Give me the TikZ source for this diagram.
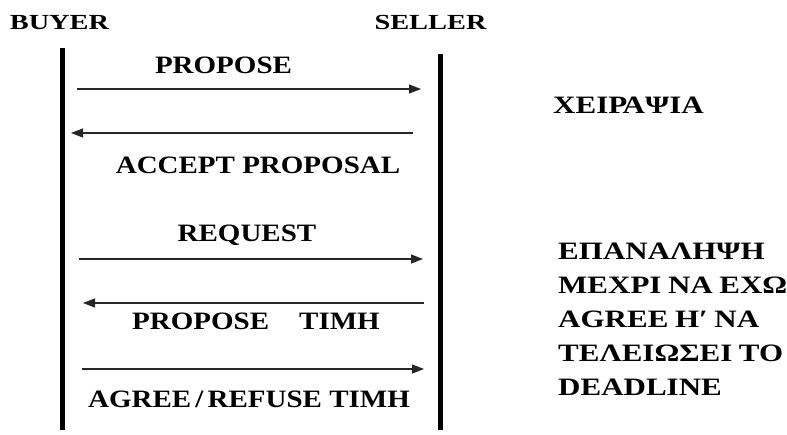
\documentclass[tikz,border=0pt]{standalone}
\usepackage{fontspec}
\setmainfont{Liberation Serif}[FakeStretch=1.16]
\newfontfamily\rolefont{Liberation Serif}[FakeStretch=1.32]
\newfontfamily\notefont{Liberation Serif}[FakeStretch=1.24,WordSpace=0.85]
\usetikzlibrary{arrows.meta}
\begin{document}
\begin{tikzpicture}[x=1pt,y=-1pt,
  lifeline/.style={line width=5pt,black},
  msg/.style={line width=1.2pt,draw=black!85,-{Triangle[length=12pt,width=9pt]}},
  role/.style={font=\rolefont\fontsize{21.5}{24}\selectfont\bfseries,inner sep=0pt,anchor=base},
  lbl/.style={font=\fontsize{25}{28}\selectfont\bfseries,inner sep=0pt,anchor=base},
  note/.style={font=\notefont\fontsize{25}{34}\selectfont\bfseries,inner sep=0pt,anchor=base west,align=left}]
\useasboundingbox (0,0) rectangle (787,434);
% roles
\node[role] (buyer) at (59.5,29) {BUYER};
\node[role] (seller) at (430.5,29) {SELLER};
% lifelines
\coordinate (bt) at (62.5,48);
\coordinate (bb) at (62.5,430);
\coordinate (st) at (440,54);
\coordinate (sb) at (440,430);
\draw[lifeline] (bt) -- (bb);
\draw[lifeline] (st) -- (sb);
% message end points
\coordinate (m1a) at (77,89);   \coordinate (m1b) at (421,89);
\coordinate (m2a) at (413,133); \coordinate (m2b) at (71,133);
\coordinate (m3a) at (79,259);  \coordinate (m3b) at (423,259);
\coordinate (m4a) at (424,303); \coordinate (m4b) at (83,303);
\coordinate (m5a) at (82,369);  \coordinate (m5b) at (424,369);
\draw[msg] (m1a) -- (m1b);
\draw[msg] (m2a) -- (m2b);
\draw[msg] (m3a) -- (m3b);
\draw[msg] (m4a) -- (m4b);
\draw[msg] (m5a) -- (m5b);
% labels
\node[lbl] (l1) at (223.5,73) {PROPOSE};
\node[lbl] (l2) at (258,173) {ACCEPT PROPOSAL};
\node[lbl] (l3) at (247,241) {REQUEST};
\node[lbl] (l4) at (256,329) {PROPOSE\hspace{1.2em}ΤΙΜΗ};
\node[lbl] (l5) at (249,407) {AGREE\,/\,REFUSE ΤΙΜΗ};
% notes
\node[note] (n1) at (553,113) {ΧΕΙΡΑΨΙΑ};
\node[note] (n2) at (558,395) {ΕΠΑΝΑΛΗΨΗ\\ΜΕΧΡΙ ΝΑ ΕΧΩ\\AGREE Η′ ΝΑ\\ΤΕΛΕΙΩΣΕΙ ΤΟ\\DEADLINE};
\end{tikzpicture}
\end{document}
